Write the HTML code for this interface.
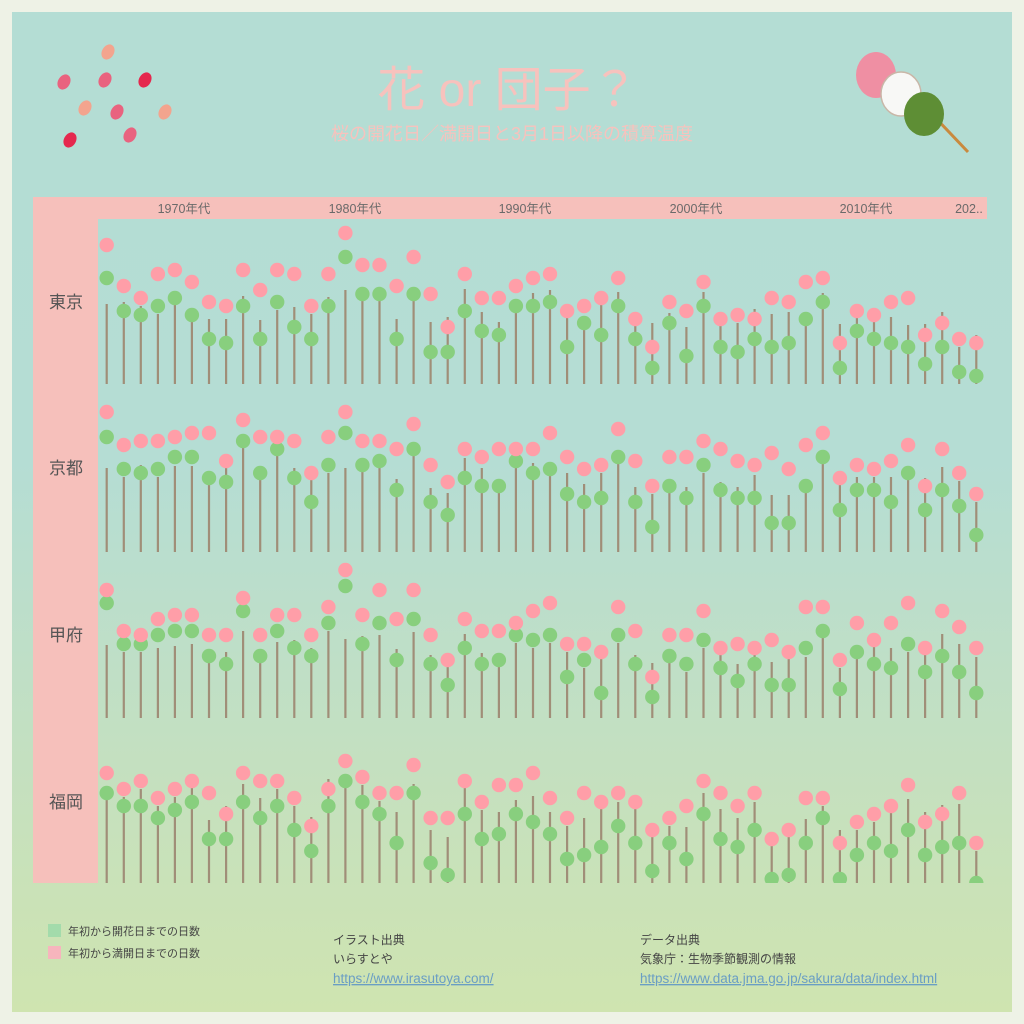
<!DOCTYPE html>
<html><head><meta charset="utf-8">
<style>
html,body{margin:0;padding:0;background:#eef2e6;}
body{width:1024px;height:1024px;position:relative;overflow:hidden;font-family:"Liberation Sans","Noto Sans CJK JP",sans-serif;}
#main{position:absolute;left:12px;top:12px;width:1000px;height:1000px;background:linear-gradient(#b4ddd4 0%,#b5ddd4 45%,#c4e0c0 75%,#cfe4b0 100%);}
</style></head><body>
<div id="main"></div>
<svg width="1024" height="1024" style="position:absolute;left:0;top:0" id="s">
<defs><clipPath id="c"><rect x="98" y="219" width="889" height="664"/></clipPath></defs>
<rect x="33" y="197" width="954" height="22" fill="#f6c0bb"/>
<rect x="33" y="197" width="65" height="686" fill="#f6c0bb"/>
<g font-size="12.5" fill="#6a6a6a" text-anchor="middle">
<text x="184" y="213">1970年代</text><text x="355" y="213">1980年代</text><text x="525" y="213">1990年代</text><text x="696" y="213">2000年代</text><text x="866" y="213">2010年代</text><text x="969" y="213">202..</text>
</g>
<g font-size="17" fill="#555" text-anchor="middle">
<text x="66" y="308">東京</text><text x="66" y="474">京都</text><text x="66" y="641">甲府</text><text x="66" y="808">福岡</text>
</g>
<text x="508" y="106" font-size="48" fill="#f7c2bd" text-anchor="middle">花 or 団子？</text>
<text x="512" y="140" font-size="18" fill="#f7c2bd" text-anchor="middle">桜の開花日／満開日と3月1日以降の積算温度</text>
<g id="petals"></g>
<line x1="930" y1="112" x2="968" y2="152" stroke="#c98a3e" stroke-width="3"/>
<ellipse cx="876" cy="75" rx="20" ry="23" fill="#ef8fa3"/>
<ellipse cx="901" cy="94" rx="20" ry="22" fill="#f8f8f6" stroke="#c9b7a8" stroke-width="1.5"/>
<ellipse cx="924" cy="114" rx="20" ry="22" fill="#5e8e35"/>
<g id="plot" clip-path="url(#c)"></g>
<rect x="48" y="924" width="13" height="13" fill="#a3dbab"/>
<rect x="48" y="946" width="13" height="13" fill="#f7b5bd"/>
<g font-size="11" fill="#444">
<text x="68" y="935">年初から開花日までの日数</text>
<text x="68" y="957">年初から満開日までの日数</text>
</g>
<g font-size="12" fill="#444">
<text x="333" y="944">イラスト出典</text>
<text x="333" y="963">いらすとや</text>
<text x="333" y="983" font-size="13.5" fill="#6a9ec4" text-decoration="underline">https://www.irasutoya.com/</text>
<text x="640" y="944">データ出典</text>
<text x="640" y="963">気象庁：生物季節観測の情報</text>
<text x="640" y="983" font-size="13.5" fill="#6a9ec4" text-decoration="underline">https://www.data.jma.go.jp/sakura/data/index.html</text>
</g>
</svg>
<script>
var P=[
{b:384,p:[245,286,298,274,270,282,302,306,270,290,270,274,306,274,233,265,265,286,257,294,327,274,298,298,286,278,274,311,306,298,278,319,347,302,311,282,319,315,319,298,302,282,278,343,311,315,302,298,335,323,339,343],
g:[278,311,315,306,298,315,339,343,306,339,302,327,339,306,257,294,294,339,294,352,352,311,331,335,306,306,302,347,323,335,306,339,368,323,356,306,347,352,339,347,343,319,302,368,331,339,343,347,364,347,372,376],
s:[304,302,306,314,305,320,319,319,296,320,310,307,314,297,290,294,294,319,294,322,317,289,312,322,306,293,290,317,317,305,292,326,323,313,327,292,326,323,309,314,312,319,293,324,317,320,317,325,324,312,347,335]},
{b:552,p:[412,445,441,441,437,433,433,461,420,437,437,441,473,437,412,441,441,449,424,465,482,449,457,449,449,449,433,457,469,465,429,461,486,457,457,441,449,461,465,453,469,445,433,478,465,469,461,445,486,449,473,494],
g:[437,469,473,469,457,457,478,482,441,473,449,478,502,465,433,465,461,490,449,502,515,478,486,486,461,473,469,494,502,498,457,502,527,486,498,465,490,498,498,523,523,486,457,510,490,490,502,473,510,490,506,535],
s:[468,477,465,477,466,466,483,468,448,480,455,468,480,473,468,458,468,479,455,488,493,458,468,487,468,463,470,473,484,473,464,487,494,493,487,473,482,487,475,495,495,493,464,485,477,477,477,480,478,467,481,502]},
{b:718,p:[590,631,635,619,615,615,635,635,598,635,615,615,635,607,570,615,590,619,590,635,660,619,631,631,623,611,603,644,644,652,607,631,677,635,635,611,648,644,648,640,652,607,607,660,623,640,623,603,648,611,627,648],
g:[603,644,644,635,631,631,656,664,611,656,631,648,656,623,586,644,623,660,619,664,685,648,664,660,635,640,635,677,660,693,635,664,697,656,664,640,668,681,664,685,685,648,631,689,652,664,668,644,672,656,672,693],
s:[645,652,652,648,646,644,663,652,631,663,642,640,648,631,639,636,635,649,632,655,667,634,653,660,643,648,643,652,668,658,643,655,663,663,672,648,655,664,655,662,659,657,638,668,659,647,648,652,655,634,644,657]},
{b:883,p:[773,789,781,798,789,781,793,814,773,781,781,798,826,789,761,777,793,793,765,818,818,781,802,785,785,773,798,818,793,802,793,802,830,818,806,781,793,806,793,839,830,798,798,843,822,814,806,785,822,814,793,843],
g:[793,806,806,818,810,802,839,839,802,818,806,830,851,806,781,802,814,843,793,863,875,814,839,834,814,822,834,859,855,847,826,843,871,843,859,814,839,847,830,879,875,843,818,879,855,843,851,830,855,847,843,883],
s:[800,797,789,806,797,788,820,806,784,798,789,806,817,779,788,785,801,812,784,830,837,788,810,812,800,796,812,826,818,809,802,809,837,826,827,793,809,818,802,846,837,819,806,830,830,822,813,799,812,805,804,851]}
];
var h='';
P.forEach(function(d){
 for(var i=0;i<52;i++){
  var x=(106.7+i*17.05).toFixed(1);
  h+='<line x1="'+x+'" y1="'+d.b+'" x2="'+x+'" y2="'+d.s[i]+'" stroke="#a08e78" stroke-width="2.2"/>';
 }
 for(var i=0;i<52;i++){
  var x=(106.7+i*17.05).toFixed(1);
  h+='<circle cx="'+x+'" cy="'+d.g[i]+'" r="7.2" fill="#88cf7e"/>';
  h+='<circle cx="'+x+'" cy="'+d.p[i]+'" r="7.2" fill="#ff9ea8"/>';
 }
});
document.getElementById('plot').innerHTML=h;
var pe=[[108,52,'#f3a48e'],[64,82,'#e9637f'],[105,80,'#e9637f'],[145,80,'#e5284e'],[85,108,'#f3a48e'],[117,112,'#e9637f'],[165,112,'#f3a48e'],[70,140,'#e5284e'],[130,135,'#e9637f']];
var q='';
pe.forEach(function(a){q+='<ellipse cx="'+a[0]+'" cy="'+a[1]+'" rx="6" ry="8" transform="rotate(30 '+a[0]+' '+a[1]+')" fill="'+a[2]+'"/>';});
document.getElementById('petals').innerHTML=q;
</script>
</body></html>
